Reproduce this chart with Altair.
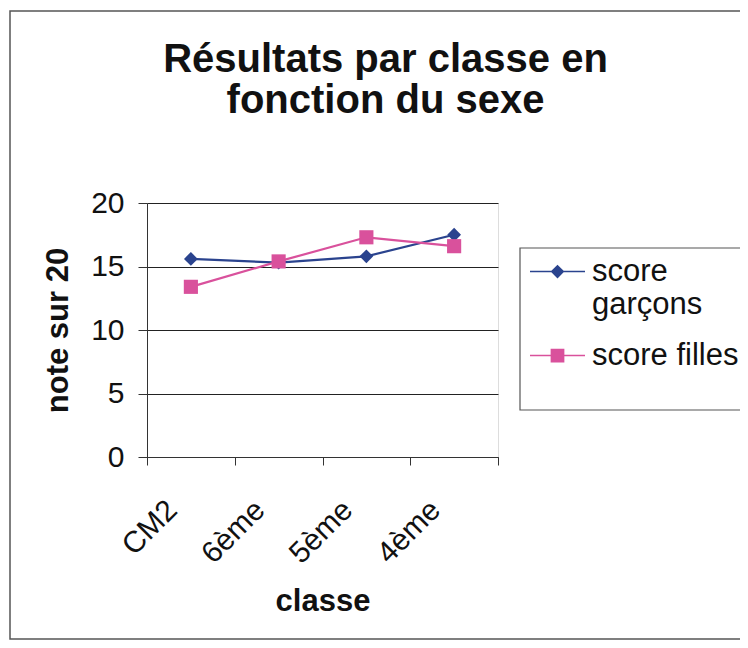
import altair as alt
import pandas as pd

# ---- data ----
classes = ["CM2", "6ème", "5ème", "4ème"]
score_garcons = [15.6, 15.3, 15.8, 17.5]
score_filles = [13.4, 15.4, 17.3, 16.6]
series = ["score garçons", "score filles"]
colors = ["#2A438E", "#D9519C"]
y_ticks = [0, 5, 10, 15, 20]
title_lines = ["Résultats par classe en", "fonction du sexe"]

rows = []
for c, v in zip(classes, score_garcons):
    rows.append({"classe": c, "serie": series[0], "note": v})
for c, v in zip(classes, score_filles):
    rows.append({"classe": c, "serie": series[1], "note": v})
df = pd.DataFrame(rows)

FONT = "Liberation Sans"
INK = "#111111"
W, H = 351, 254

x_enc = alt.X(
    "classe:N", sort=classes, bandPosition=0.5,
    scale=alt.Scale(type="band", paddingInner=0, paddingOuter=0),
    axis=alt.Axis(
        title="classe", tickBand="extent", labelAngle=315,
        labelAlign="right", labelBaseline="middle", labelOffset=-19,
        labelPadding=40, labelFont=FONT, labelFontSize=30, labelColor=INK,
        tickSize=8, tickColor="#333333", domainColor="#333333", grid=False,
        titleFont=FONT, titleFontSize=31, titleFontWeight="bold", titleColor=INK,
        titleX=W / 2, titleY=153, titleBaseline="alphabetic", titleAlign="center",
    ),
)
y_enc = alt.Y(
    "note:Q",
    scale=alt.Scale(domain=[0, 20], nice=False),
    axis=alt.Axis(
        values=y_ticks, title="note sur 20", grid=True, gridColor="#222222",
        gridWidth=1, tickSize=9, tickColor="#333333", domainColor="#333333",
        labelPadding=14, labelFont=FONT, labelFontSize=30, labelColor=INK,
        titleFont=FONT, titleFontSize=31, titleFontWeight="bold", titleColor=INK,
        titleAngle=270, titleX=-80, titleY=H / 2, titleBaseline="alphabetic",
        titleAlign="center",
    ),
)
color_scale = alt.Scale(domain=series, range=colors)
color_nolegend = alt.Color("serie:N", scale=color_scale, legend=None)

lines = alt.Chart(df).mark_line(strokeWidth=2.2).encode(x=x_enc, y=y_enc, color=color_nolegend)
pts_g = alt.Chart(df).transform_filter(alt.datum.serie == series[0]).mark_point(
    shape="diamond", filled=True, size=190, opacity=1
).encode(x=x_enc, y=y_enc, color=color_nolegend)
pts_f = alt.Chart(df).transform_filter(alt.datum.serie == series[1]).mark_point(
    shape="square", filled=True, size=200, opacity=1
).encode(x=x_enc, y=y_enc, color=color_nolegend)

# legend symbols: line with marker
sym_paths = [
    "M-1,-0.03H1V0.03H-1Z M0,-0.25L0.25,0L0,0.25L-0.25,0Z",
    "M-1,-0.03H1V0.03H-1Z M-0.25,-0.25H0.25V0.25H-0.25Z",
]
leg = alt.Legend(
    orient="none", legendX=383, legendY=41, title=None, padding=0,
    labelFont=FONT, labelFontSize=31, labelColor=INK, labelLimit=400,
    labelOffset=7, symbolSize=3025, symbolStrokeWidth=0, rowPadding=8,
    labelExpr="datum.label == 'score garçons' ? ['score', 'garçons'] : datum.label",
)
legend_layer = alt.Chart(df).transform_filter("false").mark_point(
    filled=True, size=3025, opacity=1
).encode(
    fill=alt.Fill("serie:N", scale=alt.Scale(domain=series, range=colors), legend=leg),
    shape=alt.Shape("serie:N", scale=alt.Scale(domain=series, range=sym_paths), legend=leg),
)

frame_df = pd.DataFrame({"k": [0]})
outer = alt.Chart(frame_df).mark_rect(fill="transparent", stroke="#555555", strokeWidth=1.5).encode(
    x=alt.value(-137), x2=alt.value(640), y=alt.value(-192), y2=alt.value(436)
)
leg_box = alt.Chart(frame_df).mark_rect(fill="transparent", stroke="#555555", strokeWidth=1.2).encode(
    x=alt.value(373), x2=alt.value(640), y=alt.value(45), y2=alt.value(207)
)

chart = alt.layer(outer, leg_box, lines, pts_g, pts_f, legend_layer).resolve_scale(
    fill="independent", shape="independent"
).resolve_legend(fill="independent", shape="independent").properties(
    width=W, height=H,
    title=alt.TitleParams(
        text=title_lines, font=FONT, fontSize=40, fontWeight="bold", color=INK,
        anchor="middle", frame="group", dx=63, offset=-151, baseline="bottom", lineHeight=41,
    ),
    padding={"left": 139, "top": 195, "right": 242, "bottom": 183},
    autosize=alt.AutoSizeParams(type="none"),
).configure_view(strokeWidth=0).configure(background="white")

chart.save("out.html", embed_options={"renderer": "svg", "actions": False})
